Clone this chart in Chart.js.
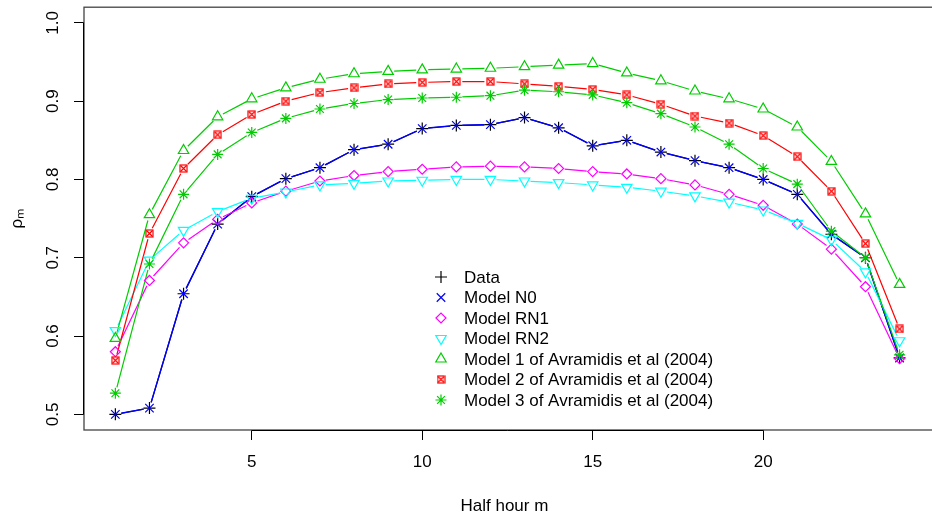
<!DOCTYPE html>
<html>
<head>
<meta charset="utf-8">
<script src="https://cdn.jsdelivr.net/npm/chart.js@4.4.1/dist/chart.umd.min.js"></script>
<style>
  html, body { margin: 0; padding: 0; background: #fff; }
  #wrap { width: 932px; height: 521px; }
</style>
</head>
<body>
<div id="wrap"><canvas id="graph"></canvas></div>
<script>
// half hours 1..24
const halfHours = [1, 2, 3, 4, 5, 6, 7, 8, 9, 10, 11, 12, 13, 14, 15, 16, 17, 18, 19, 20, 21, 22, 23, 24];
const xTicks = [5, 10, 15, 20];
const yTicks = [0.5, 0.6, 0.7, 0.8, 0.9, 1.0];

const obsData = [0.500, 0.508, 0.654, 0.743, 0.778, 0.801, 0.815, 0.838, 0.845, 0.865, 0.869, 0.870,
                 0.879, 0.866, 0.843, 0.850, 0.835, 0.824, 0.815, 0.800, 0.781, 0.730, 0.700, 0.572];
const modelN0 = [0.500, 0.508, 0.654, 0.743, 0.778, 0.801, 0.815, 0.838, 0.845, 0.865, 0.869, 0.870,
                 0.879, 0.866, 0.843, 0.850, 0.835, 0.824, 0.815, 0.800, 0.781, 0.730, 0.700, 0.572];
const modelRN1 = [0.580, 0.671, 0.719, 0.749, 0.770, 0.785, 0.798, 0.805, 0.810, 0.813, 0.816, 0.817,
                  0.816, 0.814, 0.810, 0.807, 0.801, 0.793, 0.781, 0.767, 0.743, 0.711, 0.663, 0.571];
const modelRN2 = [0.607, 0.697, 0.735, 0.759, 0.776, 0.784, 0.793, 0.795, 0.798, 0.799, 0.800, 0.800,
                  0.798, 0.796, 0.793, 0.790, 0.785, 0.779, 0.771, 0.761, 0.744, 0.723, 0.682, 0.594];
const avr1 = [0.597, 0.755, 0.837, 0.880, 0.903, 0.917, 0.928, 0.935, 0.938, 0.940, 0.941, 0.942,
              0.944, 0.946, 0.948, 0.936, 0.926, 0.913, 0.903, 0.890, 0.867, 0.823, 0.756, 0.666];
const avr2 = [0.569, 0.731, 0.814, 0.857, 0.883, 0.900, 0.911, 0.917, 0.922, 0.924, 0.925, 0.925,
              0.922, 0.919, 0.915, 0.908, 0.896, 0.881, 0.872, 0.856, 0.829, 0.785, 0.718, 0.609];
const avr3 = [0.527, 0.692, 0.781, 0.832, 0.860, 0.878, 0.890, 0.897, 0.902, 0.904, 0.905, 0.907,
              0.914, 0.912, 0.908, 0.898, 0.884, 0.867, 0.845, 0.814, 0.794, 0.734, 0.700, 0.576];

const seriesNames = ['Data', 'Model N0', 'Model RN1', 'Model RN2',
  'Model 1 of Avramidis et al (2004)', 'Model 2 of Avramidis et al (2004)', 'Model 3 of Avramidis et al (2004)'];

const FONT = '"Liberation Sans", Arial, Helvetica, sans-serif';

// pch 7 : square with a cross in it
function boxX(color) {
  const c = document.createElement('canvas');
  c.width = 9; c.height = 9;
  const g = c.getContext('2d');
  g.strokeStyle = color; g.lineWidth = 1.2;
  g.strokeRect(1, 1, 7, 7);
  g.beginPath();
  g.moveTo(1.5, 1.5); g.lineTo(7.5, 7.5);
  g.moveTo(7.5, 1.5); g.lineTo(1.5, 7.5);
  g.stroke();
  return c;
}

function pts(vals) {
  return halfHours.map((h, i) => ({ x: h, y: vals[i] }));
}

const styles = [
  { color: '#000000', pointStyle: 'cross', radius: 6, rotation: 0, lw: 1.2 },
  { color: '#0000ff', pointStyle: 'crossRot', radius: 6, rotation: 0, lw: 1.4 },
  { color: '#ff00ff', pointStyle: 'rectRot', radius: 5, rotation: 0, lw: 1.2 },
  { color: '#00ffff', pointStyle: 'triangle', radius: 6, rotation: 180, lw: 1.2 },
  { color: '#00cd00', pointStyle: 'triangle', radius: 6, rotation: 0, lw: 1.2 },
  { color: '#ff0000', pointStyle: boxX('#ff0000'), radius: 5, rotation: 0, lw: 1.2 },
  { color: '#00cd00', pointStyle: 'star', radius: 5.5, rotation: 0, lw: 1.2 }
];
const seriesVals = [obsData, modelN0, modelRN1, modelRN2, avr1, avr2, avr3];

const datasets = seriesVals.map((vals, i) => ({
  label: seriesNames[i],
  data: pts(vals),
  showLine: false,
  borderColor: styles[i].color,
  backgroundColor: 'rgba(0,0,0,0)',
  pointStyle: styles[i].pointStyle,
  pointRadius: styles[i].radius,
  pointRotation: styles[i].rotation,
  pointBorderWidth: 1.2,
  pointHoverRadius: styles[i].radius,
  order: 10 - i,
  lineGap: 6,
  lineW: styles[i].lw
}));

// lines like R type="b": segments with gaps around the points
const gappedLines = {
  id: 'gappedLines',
  beforeDatasetsDraw(chart) {
    const ctx = chart.ctx;
    ctx.save();
    chart.data.datasets.forEach((ds, i) => {
      const meta = chart.getDatasetMeta(i);
      ctx.strokeStyle = ds.borderColor;
      ctx.lineWidth = ds.lineW;
      ctx.beginPath();
      for (let j = 0; j < meta.data.length - 1; j++) {
        const a = meta.data[j], b = meta.data[j + 1];
        const dx = b.x - a.x, dy = b.y - a.y;
        const len = Math.hypot(dx, dy);
        if (len <= 2 * ds.lineGap) continue;
        const ux = dx / len, uy = dy / len;
        ctx.moveTo(a.x + ux * ds.lineGap, a.y + uy * ds.lineGap);
        ctx.lineTo(b.x - ux * ds.lineGap, b.y - uy * ds.lineGap);
      }
      ctx.stroke();
    });
    ctx.restore();
  }
};

// box, axis lines and the legend inside the plot
const frameAndLegend = {
  id: 'frameAndLegend',
  afterDraw(chart) {
    const ctx = chart.ctx;
    const area = chart.chartArea;
    const xs = chart.scales.x, ys = chart.scales.y;
    ctx.save();
    ctx.strokeStyle = '#444';
    ctx.lineWidth = 1.3;
    ctx.strokeRect(area.left, area.top, area.right - area.left + 20, area.bottom - area.top);
    ctx.strokeStyle = '#000';
    ctx.lineWidth = 1;
    ctx.beginPath();
    ctx.moveTo(xs.getPixelForValue(xTicks[0]), area.bottom + 0.5);
    ctx.lineTo(xs.getPixelForValue(xTicks[xTicks.length - 1]), area.bottom + 0.5);
    ctx.moveTo(area.left - 0.5, ys.getPixelForValue(yTicks[0]));
    ctx.lineTo(area.left - 0.5, ys.getPixelForValue(yTicks[yTicks.length - 1]));
    ctx.stroke();

    // legend
    const symX = 441, txtX = 464, y0 = 277, step = 20.5;
    ctx.font = '17px ' + FONT;
    ctx.textBaseline = 'middle';
    ctx.textAlign = 'left';
    chart.data.datasets.forEach((ds, i) => {
      const y = y0 + i * step;
      ctx.strokeStyle = ds.borderColor;
      ctx.fillStyle = 'rgba(0,0,0,0)';
      ctx.lineWidth = 1.2;
      Chart.helpers.drawPoint(ctx, {
        pointStyle: ds.pointStyle, rotation: ds.pointRotation,
        radius: ds.pointRadius, borderWidth: 1.2
      }, symX, y);
      ctx.fillStyle = '#000';
      ctx.fillText(ds.label, txtX, y + 1);
    });
    ctx.restore();
  }
};

const config = {
  type: 'scatter',
  data: { datasets: datasets },
  options: {
    responsive: true,
    maintainAspectRatio: false,
    animation: false,
    layout: { padding: { top: 4, right: 0, bottom: 0, left: 0 } },
    plugins: {
      legend: { display: false },
      tooltip: { enabled: false }
    },
    scales: {
      x: {
        type: 'linear',
        min: 0.08,
        max: 24.74,
        afterBuildTicks: s => { s.ticks = xTicks.map(v => ({ value: v })); },
        afterFit: s => { s.height = 91; s.paddingLeft = 0; s.paddingRight = 0; },
        border: { display: false },
        grid: { drawOnChartArea: false, drawTicks: true, tickLength: 10, color: '#000', lineWidth: 1 },
        ticks: { padding: 12, color: '#000', font: { family: FONT, size: 17 }, maxRotation: 0, autoSkip: false,
                 callback: v => String(v) },
        title: { display: true, text: 'Half hour m', color: '#000',
                 font: { family: FONT, size: 17 }, padding: { top: 0, bottom: 4 } }
      },
      y: {
        type: 'linear',
        min: 0.48,
        max: 1.02,
        afterBuildTicks: s => { s.ticks = yTicks.map(v => ({ value: v })); },
        afterFit: s => { s.width = 84; s.paddingTop = 0; s.paddingBottom = 0; },
        border: { display: false },
        grid: { drawOnChartArea: false, drawTicks: true, tickLength: 10, color: '#000', lineWidth: 1 },
        ticks: { padding: 9, color: '#000', font: { family: FONT, size: 17 }, minRotation: 90, maxRotation: 90,
                 crossAlign: 'center', autoSkip: false, callback: v => v.toFixed(1) },
        title: { display: true, text: 'ρₘ', color: '#000',
                 font: { family: FONT, size: 17 }, padding: { top: 7, bottom: 0 } }
      }
    }
  },
  plugins: [gappedLines, frameAndLegend]
};

const ctx = document.getElementById('graph').getContext('2d');
const graph = new Chart(ctx, config);
</script>
</body>
</html>
